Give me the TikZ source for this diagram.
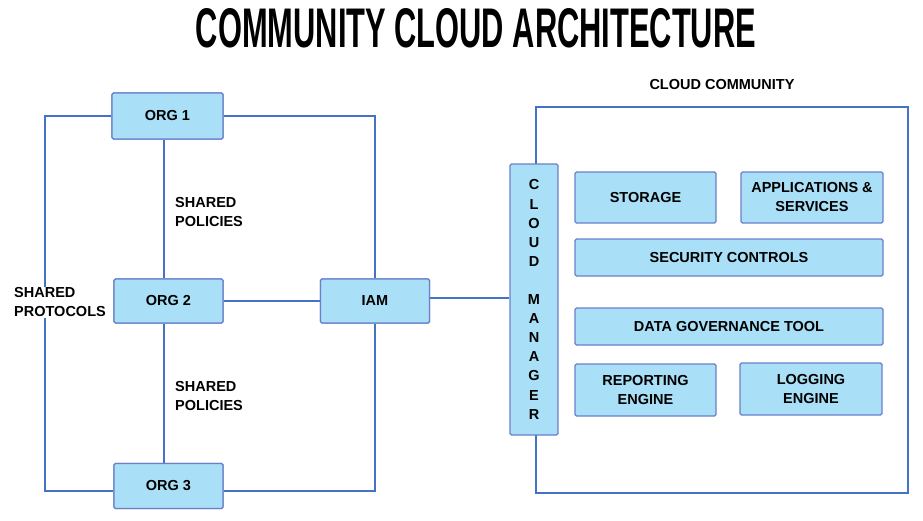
\documentclass[tikz,border=0pt]{standalone}
\usepackage{fontspec}
\setmainfont{Liberation Sans}
\usepackage{graphicx}
\definecolor{boxfill}{HTML}{A9E0F7}
\definecolor{boxdraw}{HTML}{6A7FC8}
\definecolor{wire}{HTML}{4472C4}
\begin{document}
\begin{tikzpicture}[x=1pt,y=-1pt,
  box/.style={draw=boxdraw,fill=boxfill,line width=1.3pt,rounded corners=1.5pt,
    font=\bfseries\fontsize{14.5}{19}\selectfont,align=center,inner sep=0pt},
  wireline/.style={draw=wire,line width=1.6pt},
  lbl/.style={font=\bfseries\fontsize{14.5}{19}\selectfont,align=left,inner sep=0pt}]
\useasboundingbox (0,0) rectangle (923,520);
% title
\node (title) at (476,28) {\resizebox{560pt}{39pt}{\bfseries COMMUNITY CLOUD ARCHITECTURE}};
% outer community box
\draw[wireline] (536,107) rectangle (908,493);
\node[lbl] (cc) at (722,85) {CLOUD COMMUNITY};
% org nodes
\node[box,minimum width=111pt,minimum height=46pt] (org1) at (167.5,116) {ORG 1};
\node[box,minimum width=109pt,minimum height=44pt] (org2) at (168.5,301) {ORG 2};
\node[box,minimum width=109pt,minimum height=45pt] (org3) at (168.5,486) {ORG 3};
\node[box,minimum width=109pt,minimum height=44pt] (iam) at (375,301) {IAM};
% coordinates for wire corners
\coordinate (tl) at (45,116);
\coordinate (bl) at (45,491);
\coordinate (tr) at (375,116);
\coordinate (br) at (375,491);
\coordinate (vx) at (164,0);
\draw[wireline] (org1.west |- tl) -- (tl) -- (bl) -- (org3.west |- bl);
\draw[wireline] (org1.east |- tr) -- (tr) -- (iam.north);
\draw[wireline] (iam.south) -- (br) -- (org3.east |- br);
\draw[wireline] (org1.south -| vx) -- (org2.north -| vx);
\draw[wireline] (org2.south -| vx) -- (org3.north -| vx);
\draw[wireline] (org2.east) -- (iam.west);
% redraw org boxes on top
\node[box,minimum width=111pt,minimum height=46pt] at (167.5,116) {ORG 1};
\node[box,minimum width=109pt,minimum height=44pt] at (168.5,301) {ORG 2};
\node[box,minimum width=109pt,minimum height=45pt] at (168.5,486) {ORG 3};
\node[box,minimum width=109pt,minimum height=44pt] at (375,301) {IAM};
% labels
\node[lbl,anchor=west] (sp1) at (175,212.5) {SHARED\\POLICIES};
\node[lbl,anchor=west] (sp2) at (175,395.5) {SHARED\\POLICIES};
\node[lbl,anchor=west,fill=white,inner sep=1pt] (spr) at (13,302.5) {SHARED\\PROTOCOLS};
% cloud manager
\node[box,minimum width=48pt,minimum height=271pt,font=\bfseries\fontsize{14.5}{19.1}\selectfont] (cm) at (534,299.5)
  {C\\L\\O\\U\\D\\ \\M\\A\\N\\A\\G\\E\\R};
\coordinate (cmin) at (0,298);
\draw[wireline] (iam.east |- cmin) -- (cm.west |- cmin);
% services
\node[box,minimum width=141pt,minimum height=51pt] (stor) at (645.5,197.5) {STORAGE};
\node[box,minimum width=142pt,minimum height=51pt] (apps) at (812,197.5) {APPLICATIONS \&\\SERVICES};
\node[box,minimum width=308pt,minimum height=37pt] (sec) at (729,257.5) {SECURITY CONTROLS};
\node[box,minimum width=308pt,minimum height=37pt] (gov) at (729,326.5) {DATA GOVERNANCE TOOL};
\node[box,minimum width=141pt,minimum height=52pt] (rep) at (645.5,390) {REPORTING\\ENGINE};
\node[box,minimum width=142pt,minimum height=52pt] (log) at (811,389) {LOGGING\\ENGINE};
\end{tikzpicture}
\end{document}
